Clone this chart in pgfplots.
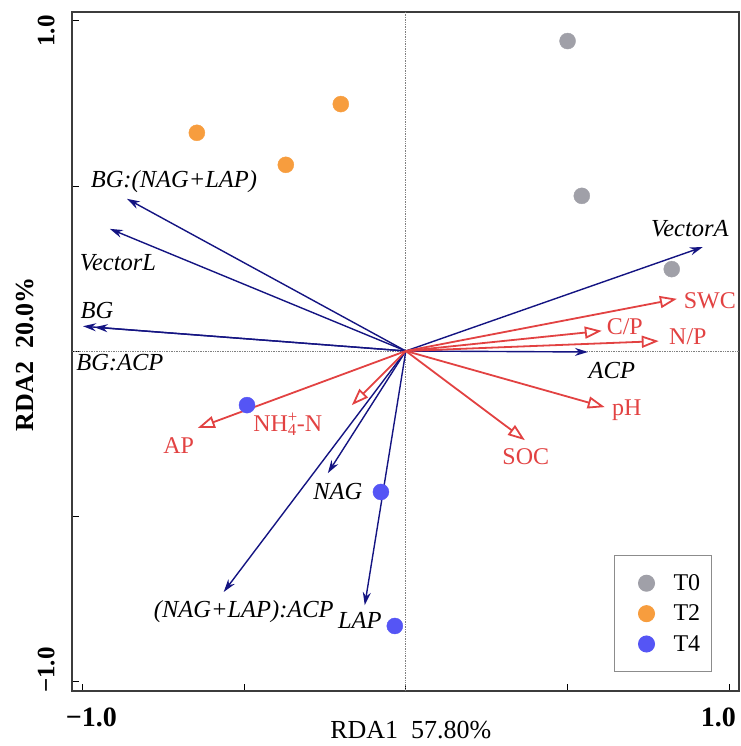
\documentclass[border=0pt]{standalone}
\usepackage{fontspec}
\setmainfont{Liberation Serif}
\usepackage{pgfplots}
\pgfplotsset{compat=1.18}
\usetikzlibrary{arrows.meta,calc}
\definecolor{cgray}{RGB}{160,160,168}
\definecolor{corange}{RGB}{247,157,62}
\definecolor{cblue}{RGB}{85,85,245}
\definecolor{cnavy}{RGB}{20,20,130}
\definecolor{cred}{RGB}{226,66,66}
\definecolor{cframe}{RGB}{60,60,60}
\newcommand\lab{\fontsize{24.5}{28}\selectfont\itshape}
\newcommand\rlab{\fontsize{24}{28}\selectfont}
\begin{document}
\begin{tikzpicture}
\begin{axis}[
  width=667pt, height=679pt, scale only axis,
  xmin=-1.032, xmax=1.030, ymin=-1.030, ymax=1.027,
  axis line style={draw=cframe, line width=1.8pt},
  tick align=inside, tick pos=left,
  major tick length=7pt,
  tick style={draw=black, line width=0.9pt},
  xtick={-1,-0.5,0,0.5,1}, ytick={-1,-0.5,0,0.5,1},
  xticklabels={{\hspace*{18pt}−1.0},{},{},{},{1.0\hspace*{22pt}}},
  yticklabels={{\hspace*{22pt}−1.0},{},{},{},{1.0\hspace*{20pt}}},
  xticklabel style={font=\bfseries\fontsize{28}{32}\selectfont, inner ysep=17pt},
  yticklabel style={font=\bfseries\fontsize{25}{30}\selectfont, rotate=90, anchor=south, inner ysep=17pt},
  xlabel={RDA1\ \ 57.80\%},
  ylabel={\bfseries RDA2\ \ 20.0\%},
  xlabel style={font=\fontsize{26}{30}\selectfont, at={(rel axis cs:0.508,-0.058)}, anchor=center},
  ylabel style={font=\fontsize{26}{30}\selectfont, at={(rel axis cs:-0.0705,0.496)}, anchor=center},
  legend style={at={(rel axis cs:0.8126,0.2003)}, anchor=north west,
    draw={rgb,255:red,140;green,140;blue,140}, line width=1pt, fill=white,
    inner xsep=9pt, inner ysep=17pt, row sep=9pt,
    font=\fontsize{24}{28}\selectfont},
  legend cell align=left,
  legend image code/.code={\path[draw=none,fill=none] (-10pt,-8pt) rectangle (38pt,8pt); \draw[#1] plot coordinates {(13pt,0pt)};},
  clip=false,
]
\coordinate (SW) at (rel axis cs:0,0);
\coordinate (NE) at (rel axis cs:1,1);
% zero lines
\draw[gray, line width=0.7pt, densely dotted] (axis cs:0,-1.030) -- (axis cs:0,1.027);
\draw[gray, line width=0.7pt, densely dotted] (axis cs:-1.032,0) -- (axis cs:1.030,0);

% response (enzyme) vectors
\addplot[cnavy, line width=1.4pt, -{Stealth[length=13pt,width=8pt]}, forget plot] coordinates {(0,0) (-0.862,0.461)};
\addplot[cnavy, line width=1.4pt, -{Stealth[length=13pt,width=8pt]}, forget plot] coordinates {(0,0) (-0.915,0.370)};
\addplot[cnavy, line width=1.4pt, -{Stealth[length=13pt,width=8pt]}, forget plot] coordinates {(0,0) (-0.998,0.075)};
\addplot[cnavy, line width=1.4pt, -{Stealth[length=13pt,width=8pt]}, forget plot] coordinates {(0,0) (-0.962,0.072)};
\addplot[cnavy, line width=1.4pt, -{Stealth[length=13pt,width=8pt]}, forget plot] coordinates {(0,0) (0.918,0.315)};
\addplot[cnavy, line width=1.4pt, -{Stealth[length=13pt,width=8pt]}, forget plot] coordinates {(0,0) (0.563,-0.003)};
\addplot[cnavy, line width=1.4pt, -{Stealth[length=13pt,width=8pt]}, forget plot] coordinates {(0,0) (-0.241,-0.370)};
\addplot[cnavy, line width=1.4pt, -{Stealth[length=13pt,width=8pt]}, forget plot] coordinates {(0,0) (-0.563,-0.730)};
\addplot[cnavy, line width=1.4pt, -{Stealth[length=13pt,width=8pt]}, forget plot] coordinates {(0,0) (-0.127,-0.770)};

% environmental vectors
\addplot[cred, line width=1.8pt, -{Triangle[open,length=17pt,width=12pt]}, forget plot] coordinates {(0,0) (0.838,0.158)};
\addplot[cred, line width=1.8pt, -{Triangle[open,length=17pt,width=12pt]}, forget plot] coordinates {(0,0) (0.606,0.061)};
\addplot[cred, line width=1.8pt, -{Triangle[open,length=17pt,width=12pt]}, forget plot] coordinates {(0,0) (0.782,0.030)};
\addplot[cred, line width=1.8pt, -{Triangle[open,length=17pt,width=12pt]}, forget plot] coordinates {(0,0) (0.615,-0.170)};
\addplot[cred, line width=1.8pt, -{Triangle[open,length=17pt,width=12pt]}, forget plot] coordinates {(0,0) (0.368,-0.270)};
\addplot[cred, line width=1.8pt, -{Triangle[open,length=17pt,width=12pt]}, forget plot] coordinates {(0,0) (-0.643,-0.233)};
\addplot[cred, line width=1.8pt, -{Triangle[open,length=17pt,width=12pt]}, forget plot] coordinates {(0,0) (-0.167,-0.164)};

% samples
\addplot[only marks, mark=*, mark size=8pt, color=cgray] coordinates {(0.500,0.939) (0.544,0.470) (0.822,0.248)};
\addlegendentry{T0}
\addplot[only marks, mark=*, mark size=8pt, color=corange] coordinates {(-0.646,0.661) (-0.201,0.748) (-0.371,0.564)};
\addlegendentry{T2}
\addplot[only marks, mark=*, mark size=8pt, color=cblue] coordinates {(-0.491,-0.164) (-0.077,-0.427) (-0.034,-0.833)};
\addlegendentry{T4}

% labels
\node[font=\lab] at (axis cs:-0.717,0.512) {BG:(NAG+LAP)};
\node[font=\lab] at (axis cs:-0.890,0.267) {VectorL};
\node[font=\lab] at (axis cs:-0.955,0.124) {BG};
\node[font=\lab] at (axis cs:-0.884,-0.036) {BG:ACP};
\node[font=\lab] at (axis cs:0.878,0.370) {VectorA};
\node[font=\lab] at (axis cs:0.637,-0.058) {ACP};
\node[font=\lab] at (axis cs:-0.210,-0.427) {NAG};
\node[font=\lab] at (axis cs:-0.501,-0.788) {(NAG+LAP):ACP};
\node[font=\lab] at (axis cs:-0.142,-0.815) {LAP};
\node[font=\rlab, text=cred] at (axis cs:0.940,0.152) {SWC};
\node[font=\rlab, text=cred] at (axis cs:0.677,0.073) {C/P};
\node[font=\rlab, text=cred] at (axis cs:0.872,0.042) {N/P};
\node[font=\rlab, text=cred] at (axis cs:0.683,-0.179) {pH};
\node[font=\rlab, text=cred] at (axis cs:0.371,-0.321) {SOC};
\node[font=\rlab, text=cred] at (axis cs:-0.702,-0.288) {AP};
\node[font=\rlab, text=cred] at (axis cs:-0.365,-0.221) {NH\makebox[0pt][l]{\textsuperscript{+}}\textsubscript{4}-N};
\end{axis}
\pgfresetboundingbox
\path ($(SW)+(-72pt,-55pt)$) rectangle ($(NE)+(1pt,12pt)$);
\end{tikzpicture}
\end{document}
